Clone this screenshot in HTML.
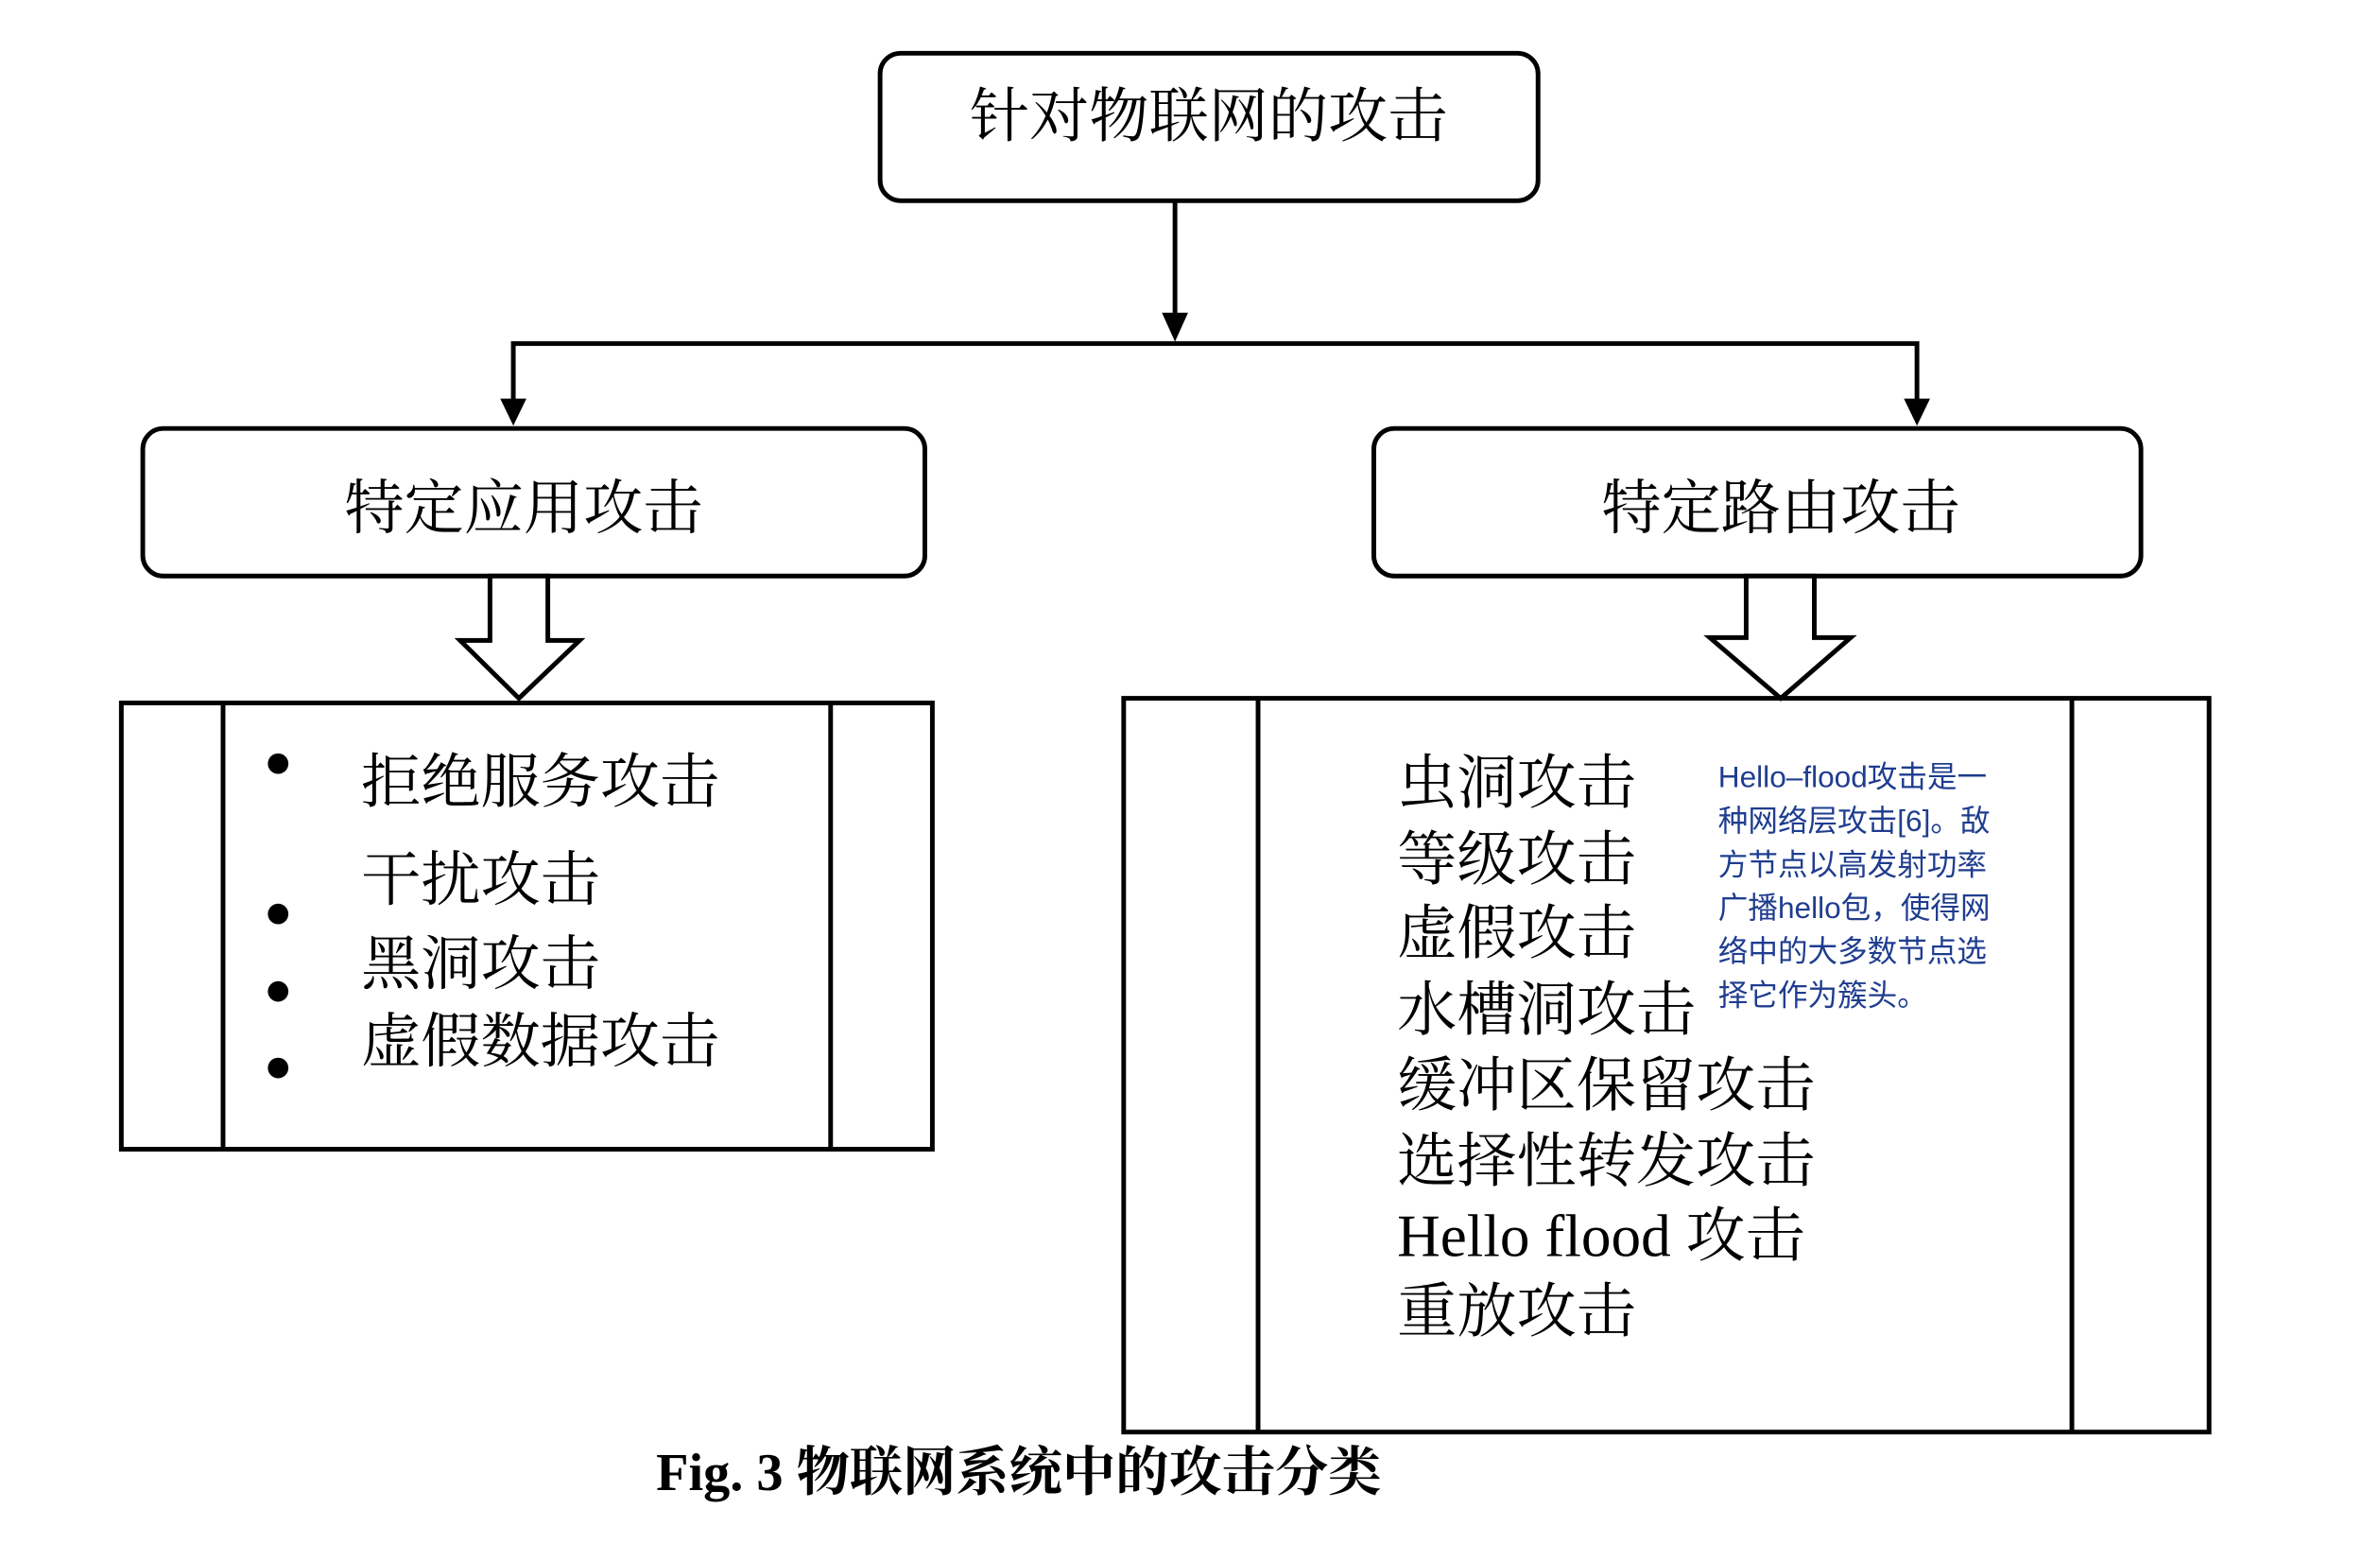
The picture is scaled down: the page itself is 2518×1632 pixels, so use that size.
<!DOCTYPE html>
<html><head><meta charset="utf-8"><style>html,body{margin:0;padding:0;background:#fff}svg{display:block}</style></head>
<body>
<svg width="2518" height="1632" viewBox="0 0 2518 1632" xmlns="http://www.w3.org/2000/svg">
<g transform="scale(0.9874)">
<g fill="none" stroke="#000" stroke-width="5">
<rect x="943" y="57" width="705" height="158" rx="22"/>
<rect x="153" y="459" width="838" height="158" rx="22"/>
<rect x="1472" y="459" width="822" height="158" rx="22"/>
<line x1="1259" y1="215" x2="1259" y2="340"/>
<polyline points="550,430 550,368 2054,368 2054,430"/>
<rect x="130" y="753" width="869" height="478"/>
<line x1="239" y1="753" x2="239" y2="1231"/>
<line x1="890" y1="753" x2="890" y2="1231"/>
<rect x="1204" y="748" width="1163" height="786"/>
<line x1="1348" y1="748" x2="1348" y2="1534"/>
<line x1="2220" y1="748" x2="2220" y2="1534"/>
<polygon points="525,617 587,617 587,686 621,686 556,748 493,686 525,686" fill="#fff"/>
<polygon points="1871,617 1944,617 1944,683 1983,683 1908,748 1832,683 1871,683" fill="#fff"/>
</g>
<g fill="#000">
<polygon points="1245,335 1273,335 1259,366"/>
<polygon points="536,427 564,427 550,456"/>
<polygon points="2040,427 2068,427 2054,456"/>
<circle cx="298" cy="818" r="11"/><circle cx="298" cy="979" r="11"/><circle cx="298" cy="1062" r="11"/><circle cx="298" cy="1144" r="11"/>
</g>
<g font-family="'Liberation Serif','Noto Serif CJK SC',serif" font-size="64" fill="#000" dominant-baseline="central">
<text x="1295" y="125" text-anchor="middle">针对物联网的攻击</text>
<text x="561" y="545" text-anchor="middle">特定应用攻击</text>
<text x="1908" y="545" text-anchor="middle">特定路由攻击</text>
<text x="387" y="838">拒绝服务攻击</text>
<text x="387" y="943">干扰攻击</text>
<text x="387" y="1033">黑洞攻击</text>
<text x="387" y="1116">虚假数据攻击</text>
<text x="1497" y="839">虫洞攻击</text>
<text x="1497" y="921">等级攻击</text>
<text x="1497" y="1000">虚假攻击</text>
<text x="1497" y="1082">水槽洞攻击</text>
<text x="1497" y="1163">缓冲区保留攻击</text>
<text x="1497" y="1244">选择性转发攻击</text>
<text x="1497" y="1324">Hello flood 攻击</text>
<text x="1497" y="1405">重放攻击</text>
<text x="703" y="1578" font-size="57" font-weight="bold">Fig. 3 物联网系统中的攻击分类</text>
</g>
<g font-family="'Liberation Sans','Noto Sans CJK SC',sans-serif" font-size="32" fill="#1f3d8f" dominant-baseline="central">
<text x="1841" y="832">Hello–flood攻击是一</text>
<text x="1841" y="879">种网络层攻击[6]。敌</text>
<text x="1841" y="926">方节点以高发射功率</text>
<text x="1841" y="972">广播hello包，使得网</text>
<text x="1841" y="1019">络中的大多数节点选</text>
<text x="1841" y="1066">择它作为簇头。</text>
</g>
</g>
</svg>
</body></html>
